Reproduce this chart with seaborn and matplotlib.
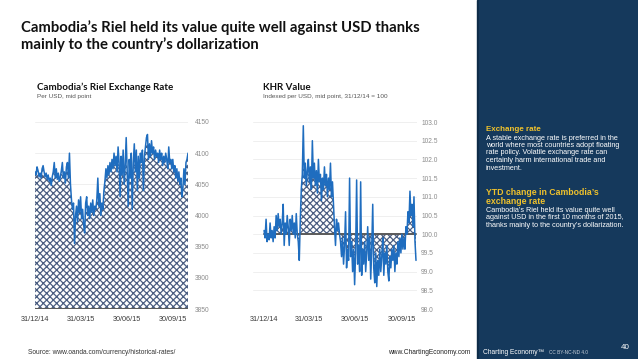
import matplotlib
matplotlib.use("Agg")
import matplotlib.pyplot as plt
from matplotlib.patches import Rectangle
import pandas as pd
import seaborn as sns

# Riel per USD, mid point, one reading every second day from 31/12/14
riel_per_usd = [
    4070, 4065, 4078, 4072, 4062, 4068, 4060, 4075, 4080, 4070,
    4062, 4068, 4058, 4065, 4055, 4060, 4048, 4062, 4070, 4085,
    4060, 4075, 4058, 4068, 4055, 4062, 4072, 4085, 4060, 4070,
    4052, 4078, 4085, 4060, 4100, 4050, 4025, 4010, 4020, 3955,
    4000, 4015, 3990, 4025, 4005, 4030, 3995, 4010, 3985, 3972,
    4020, 4030, 4000, 4015, 3995, 4020, 4005, 4025, 4000, 4015,
    4010, 4025, 4060, 4015, 4035, 4000, 4020, 4010, 4040, 4055,
    4075, 4060, 4080, 4065, 4085, 4070, 4090, 4075, 4100, 4080,
    4095, 4070, 4110, 4085, 4030, 4095, 4065, 4105, 4050, 4080,
    4125, 4070, 4015, 4090, 4060, 4100, 4010, 4085, 4115, 4070,
    4105, 4040, 4095, 4060, 4100, 4085, 4105, 4040, 4095, 4110,
    4125, 4130, 4090, 4115, 4095, 4120, 4100, 4110, 4090, 4105,
    4095, 4100, 4085, 4105, 4090, 4100, 4080, 4095, 4085, 4100,
    4090, 4075, 4110, 4085, 4090, 4075, 4090, 4070, 4080, 4060,
    4075, 4055, 4070, 4050, 4060, 4030, 4045, 4075, 4050, 4085,
    4090, 4100,
]

# KHR value, indexed per USD, 31/12/14 = 100, same dates
khr_index = [
    100.1, 99.9, 100.4, 99.8, 100.0, 99.85, 100.3, 99.9, 100.1, 99.8,
    100.2, 99.9, 100.5, 100.1, 100.55, 100.2, 100.4, 100.0, 100.3, 100.8,
    99.7, 100.3, 100.0, 100.5, 100.2, 99.7, 100.4, 100.1, 100.5, 100.0,
    100.3, 99.9, 100.55, 100.0, 99.8, 99.3, 100.4, 101.2, 101.6, 102.9,
    101.5, 101.9, 101.3, 101.7, 102.0, 101.4, 101.8, 101.2, 102.5, 101.5,
    101.9, 101.3, 101.7, 101.1, 102.0, 101.4, 101.6, 100.9, 101.5, 101.2,
    101.8, 101.3, 101.6, 101.0, 101.5, 101.2, 101.9, 101.0, 101.4, 100.8,
    100.2, 99.7, 100.4, 100.1, 100.3, 100.0, 99.8, 99.4, 99.9, 99.2,
    99.7, 100.6, 99.1, 99.6, 99.3, 101.5, 99.4, 99.8, 99.0, 99.6,
    98.65, 99.5, 101.45, 99.2, 99.7, 99.0, 101.4, 98.9, 99.6, 99.2,
    99.8, 99.0, 99.5, 100.2, 99.3, 99.9, 98.8, 99.6, 100.8, 99.1,
    98.7, 99.5, 98.6, 99.3, 98.9, 99.6, 99.0, 99.4, 99.9, 98.9,
    99.5, 99.2, 99.7, 99.0, 98.75, 99.4, 99.1, 99.6, 99.3, 99.7,
    99.0, 99.5, 99.2, 99.8, 99.4, 99.9, 99.5, 100.0, 99.6, 99.9,
    99.6, 100.2, 100.0, 100.6, 100.3, 101.15, 100.5, 100.8, 100.2, 101.0,
    99.8, 99.3,
]

tick_dates = ["2014-12-31", "2015-03-31", "2015-06-30", "2015-09-30"]
tick_labels = ["31/12/14", "31/03/15", "30/06/15", "30/09/15"]
rate_ticks = [3850, 3900, 3950, 4000, 4050, 4100, 4150]
index_ticks = [98.0, 98.5, 99.0, 99.5, 100.0, 100.5, 101.0, 101.5, 102.0, 102.5, 103.0]

dates = pd.date_range("2014-12-31", periods=len(riel_per_usd), freq="2D")
df = pd.DataFrame({"date": dates, "rate": riel_per_usd, "index": khr_index})

sns.set_theme(style="white")
plt.rcParams["font.family"] = ["Liberation Sans", "DejaVu Sans"]
plt.rcParams["hatch.linewidth"] = 0.9

LINE = "#1f6dbf"
HATCH = "#4c5f82"
GRID = "#ececec"
AXIS = "#5a5a5a"
TICK = "#8c8c8c"
W, H = 638, 359

fig = plt.figure(figsize=(W / 100, H / 100), dpi=100)
fig.patch.set_facecolor("white")


def px(x0, y0, x1, y1):
    return [x0 / W, 1 - y1 / H, (x1 - x0) / W, (y1 - y0) / H]


def style_axis(ax, yticks, fmt):
    ax.set_yticks(yticks)
    ax.set_yticklabels([fmt.format(v) for v in yticks])
    ax.yaxis.tick_right()
    ax.set_xticks(pd.to_datetime(tick_dates))
    ax.set_xticklabels(tick_labels)
    ax.tick_params(axis="y", length=0, labelsize=4.8, colors=TICK)
    ax.tick_params(axis="x", length=0, labelsize=5.2, colors="#3a3a3a", pad=5)
    ax.grid(axis="y", color=GRID, lw=0.6)
    ax.grid(axis="x", visible=False)
    for s in ax.spines.values():
        s.set_visible(False)
    ax.set_xlabel("")
    ax.set_ylabel("")


# left: exchange rate
ax1 = fig.add_axes(px(35, 122, 188, 309))
ax1.fill_between(df["date"], 3850, df["rate"], facecolor="white",
                 edgecolor=HATCH, hatch="xxxxx", linewidth=0, zorder=1)
sns.lineplot(data=df, x="date", y="rate", ax=ax1, color=LINE, lw=1.1, zorder=3)
ax1.axhline(3850, color=AXIS, lw=2.2, zorder=4)
ax1.set_ylim(3850, 4150)
ax1.set_xlim(dates[0], dates[-1])
style_axis(ax1, rate_ticks, "{:.0f}")
ax1.tick_params(axis="y", pad=5)

# right: indexed value
ax2 = fig.add_axes(px(253, 122, 417, 309))
ax2.fill_between(df["date"], 100, df["index"], facecolor="white",
                 edgecolor=HATCH, hatch="xxxxx", linewidth=0, zorder=1)
ax2.plot([dates[0], dates[-1]], [100, 100], color=AXIS, lw=1.4, zorder=2)
sns.lineplot(data=df, x="date", y="index", ax=ax2, color=LINE, lw=1.1, zorder=3)
ax2.set_ylim(98, 103)
ax2.set_xlim(dates[0] - pd.Timedelta(days=22), dates[-1] + pd.Timedelta(days=2))
style_axis(ax2, index_ticks, "{:.1f}")
ax2.tick_params(axis="y", pad=3)

# title and panel titles (multi-line baseline = last line)
fig.text(21 / W, 1 - 49 / H,
         "Cambodia\u2019s Riel held its value quite well against USD thanks\n"
         "mainly to the country\u2019s dollarization",
         fontsize=10.7, fontweight="bold", family="Lato", color="#111111",
         va="baseline", linespacing=1.2)
fig.text(37 / W, 1 - 89.5 / H, "Cambodia\u2019s Riel Exchange Rate", fontsize=7.0,
         fontweight="bold", family="Lato", color="#111111", va="baseline")
fig.text(37 / W, 1 - 98 / H, "Per USD, mid point", fontsize=4.6, color="#555555",
         va="baseline")
fig.text(263 / W, 1 - 89.5 / H, "KHR Value", fontsize=7.0, fontweight="bold",
         family="Lato", color="#111111", va="baseline")
fig.text(263 / W, 1 - 98 / H, "Indexed per USD, mid point, 31/12/14 = 100",
         fontsize=4.6, color="#555555", va="baseline")

# side panel
fig.patches.append(Rectangle((477 / W, 0), 1.5 / W, 1, transform=fig.transFigure,
                             color="#0d2b47", zorder=0))
fig.patches.append(Rectangle((478.5 / W, 0), 1, 1, transform=fig.transFigure,
                             color="#15395c", zorder=0))

YELLOW = "#f0c22c"
fig.text(486 / W, 1 - 131 / H, "Exchange rate", fontsize=5.8, fontweight="bold",
         color=YELLOW, va="baseline")
fig.text(486 / W, 1 - 134.5 / H,
         "A stable exchange rate is preferred in the\n"
         "world where most countries adopt floating\n"
         "rate policy. Volatile exchange rate can\n"
         "certainly harm international trade and\n"
         "investment.",
         fontsize=5.2, color="white", va="top", linespacing=1.1)
fig.text(486 / W, 1 - 204 / H, "YTD change in Cambodia\u2019s\nexchange rate",
         fontsize=6.3, fontweight="bold", color=YELLOW, va="baseline",
         linespacing=1.05)
fig.text(486 / W, 1 - 207 / H,
         "Cambodia\u2019s Riel held its value quite well\n"
         "against USD in the first 10 months of 2015,\n"
         "thanks mainly to the country\u2019s dollarization.",
         fontsize=5.2, color="white", va="top", linespacing=1.1)

# footer
fig.text(28 / W, 1 - 354 / H, "Source: www.oanda.com/currency/historical-rates/",
         fontsize=4.8, color="#333333", va="baseline")
fig.text(470 / W, 1 - 354 / H, "www.ChartingEconomy.com", fontsize=4.8,
         color="#222222", va="baseline", ha="right")
fig.text(483 / W, 1 - 354 / H, "Charting Economy\u2122", fontsize=4.8,
         color="white", va="baseline")
fig.text(549 / W, 1 - 354 / H, "CC BY-NC-ND 4.0", fontsize=3.4,
         color="#c8d0da", va="baseline")
fig.text(630 / W, 1 - 349 / H, "40", fontsize=5.8, color="white",
         va="baseline", ha="right")

fig.savefig("out.png", dpi=100)
